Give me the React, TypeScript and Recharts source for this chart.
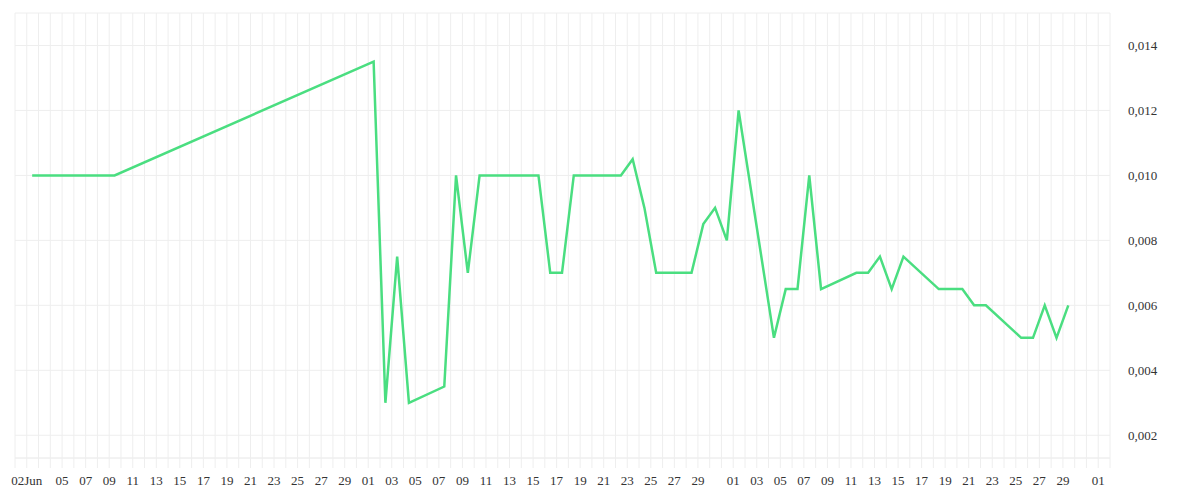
import React from 'react';
import { LineChart, Line, XAxis, YAxis, CartesianGrid } from 'recharts';

// daily readings (UTC dates), only the visible turning points
const dates = [
  '2024-06-02', '2024-06-09', '2024-07-01', '2024-07-02', '2024-07-03', '2024-07-04',
  '2024-07-07', '2024-07-08', '2024-07-09', '2024-07-10', '2024-07-15', '2024-07-16',
  '2024-07-17', '2024-07-18', '2024-07-22', '2024-07-23', '2024-07-24', '2024-07-25',
  '2024-07-28', '2024-07-29', '2024-07-30', '2024-07-31', '2024-08-01', '2024-08-04',
  '2024-08-05', '2024-08-06', '2024-08-07', '2024-08-08', '2024-08-11', '2024-08-12',
  '2024-08-13', '2024-08-14', '2024-08-15', '2024-08-18', '2024-08-20', '2024-08-21',
  '2024-08-22', '2024-08-25', '2024-08-26', '2024-08-27', '2024-08-28', '2024-08-29',
];

const values = [
  0.010, 0.010, 0.0135, 0.003, 0.0075, 0.003,
  0.0035, 0.010, 0.007, 0.010, 0.010, 0.007,
  0.007, 0.010, 0.010, 0.0105, 0.009, 0.007,
  0.007, 0.0085, 0.009, 0.008, 0.012, 0.005,
  0.0065, 0.0065, 0.010, 0.0065, 0.007, 0.007,
  0.0075, 0.0065, 0.0075, 0.0065, 0.0065, 0.006,
  0.006, 0.005, 0.005, 0.006, 0.005, 0.006,
];

// labelled days on the x axis
const juneLabelDays = [2, 5, 7, 9, 11, 13, 15, 17, 19, 21, 23, 25, 27, 29];
const julyLabelDays = [1, 3, 5, 7, 9, 11, 13, 15, 17, 19, 21, 23, 25, 27, 29];
const augLabelDays = [1, 3, 5, 7, 9, 11, 13, 15, 17, 19, 21, 23, 25, 27, 29];
const sepLabelDays = [1];

const yTicks = [0.002, 0.004, 0.006, 0.008, 0.010, 0.012, 0.014];

const DAY = 86400000;
const start = Date.UTC(2024, 5, 1);
const end = Date.UTC(2024, 8, 2);

const data = dates.map((d, i) => ({
  t: Date.parse(d + 'T11:00:00Z'),
  value: values[i],
}));

// one grid line per day
const dayTicks: number[] = [];
for (let t = start; t <= end; t += DAY) dayTicks.push(t);

const labels = new Map<number, string>();
const addMonth = (m: number, days: number[]) =>
  days.forEach((d) => labels.set(Date.UTC(2024, m, d), String(d).padStart(2, '0')));
addMonth(5, juneLabelDays);
addMonth(6, julyLabelDays);
addMonth(7, augLabelDays);
addMonth(8, sepLabelDays);
labels.set(Date.UTC(2024, 5, 2), '02Jun');

const GRID = '#eeeeee';

export default function App() {
  return (
    <div style={{ position: 'absolute', left: 0, top: 0, width: 1200, height: 500, background: '#fff' }}>
      <LineChart width={1200} height={500} data={data} margin={{ top: 13, right: 0, left: 15, bottom: 12 }}>
        <CartesianGrid stroke={GRID} strokeWidth={1} />
        <XAxis
          dataKey="t"
          type="number"
          scale="time"
          domain={[start, end]}
          ticks={dayTicks}
          interval={0}
          tickFormatter={(t: number) => labels.get(t) ?? ''}
          height={30}
          axisLine={{ stroke: GRID }}
          tickLine={{ stroke: GRID }}
          tickSize={10}
          tickMargin={8}
          tick={{ fill: '#333', fontSize: 13 }}
        />
        <YAxis
          orientation="right"
          width={90}
          domain={[0.0013, 0.015]}
          ticks={yTicks}
          tickFormatter={(v: number) => v.toFixed(3).replace('.', ',')}
          axisLine={false}
          tickLine={false}
          tickSize={0}
          tickMargin={18}
          tick={{ fill: '#333', fontSize: 13 }}
        />
        <Line
          type="linear"
          dataKey="value"
          stroke="#4ade80"
          strokeWidth={2.5}
          dot={false}
          isAnimationActive={false}
        />
      </LineChart>
    </div>
  );
}
